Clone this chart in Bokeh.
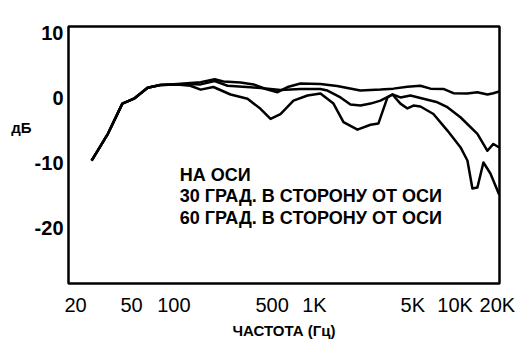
from bokeh.plotting import figure
from bokeh.models import Range1d, FixedTicker, Label, LinearAxis
from bokeh.embed import file_html
from bokeh.resources import INLINE

# Frequencies (Hz) and levels (dB)
on_axis_f = [26, 34, 43, 52, 65, 80, 106, 131, 155, 195, 225, 298, 369, 450, 546, 654, 795,
             1100, 1450, 2120, 2950, 3640, 4580, 5670, 6680, 8260, 9730, 12200, 14400, 17000, 18700, 20600]
on_axis_db = [-9.6, -5.45, -0.85, -0.1, 1.6, 2.0, 2.15, 2.3, 2.45, 2.9, 2.55, 2.4, 2.1, 1.4, 0.9, 1.75, 2.25,
              2.15, 1.85, 1.15, 1.3, 1.45, 1.75, 1.9, 1.45, 1.4, 0.75, 0.7, 0.9, 0.55, 0.75, 1.0]

deg30_f = [26, 34, 43, 52, 65, 80, 106, 131, 155, 195, 241, 351, 413, 573, 795, 1100, 1237, 1531, 1803,
           2124, 2502, 2946, 3586, 4086, 4814, 5956, 7490, 8820, 10916, 14416, 16984, 18734, 20600]
deg30_db = [-9.6, -5.45, -0.85, -0.1, 1.6, 2.0, 2.1, 2.15, 2.1, 2.6, 1.9, 1.65, 1.55, 1.25, 1.4, 1.4, 1.15, 0.1, -1.0,
            -1.15, -0.85, -0.4, 0.55, 0.1, 0.4, -0.1, -0.65, -1.4, -2.95, -5.5, -8.1, -7.05, -7.6]

deg60_f = [26, 34, 43, 52, 65, 80, 106, 131, 155, 191, 253, 334, 413, 487, 573, 709, 892, 1103, 1365, 1608,
           2022, 2502, 2852, 3304, 3586, 4086, 4584, 5056, 5672, 7016, 8820, 10916, 12240, 13282, 14416,
           15906, 17838, 20600]
deg60_db = [-9.6, -5.45, -0.85, -0.1, 1.6, 2.0, 2.1, 1.9, 1.3, 1.7, 0.55, -0.1, -1.65, -3.2, -2.45, -0.4, 0.4, 0.7,
            -0.85, -3.7, -4.85, -4.1, -3.9, 0.1, 0.55, -0.85, -1.6, -1.15, -1.3, -2.45, -5.0, -7.55, -9.6, -13.9,
            -13.75, -9.9, -11.6, -14.85]

x_ticks = [20, 50, 100, 500, 1000, 5000, 10000, 20000]
x_tick_labels = ["20", "50", "100", "500", "1K", "5K", "10K", "20K"]
y_ticks = [10, 0, -10, -20]
y_tick_labels = ["10", "0", "-10", "-20"]
y_unit = "дБ"
y_unit_level = -4.5
legend_lines = ["НА ОСИ", "30 ГРАД. В СТОРОНУ ОТ ОСИ", "60 ГРАД. В СТОРОНУ ОТ ОСИ"]

FONT = "Liberation Sans"

p = figure(width=530, height=349, x_axis_type="log",
           x_range=Range1d(17.8, 20700), y_range=Range1d(-28.5, 11),
           output_backend="svg", toolbar_location=None,
           min_border_left=68, min_border_right=31, min_border_top=26, min_border_bottom=66)
p.background_fill_color = "white"
p.border_fill_color = "white"
p.outline_line_color = "black"
p.outline_line_width = 2.5
p.grid.visible = False

for fx, dy in [(on_axis_f, on_axis_db), (deg30_f, deg30_db), (deg60_f, deg60_db)]:
    p.line(fx, dy, line_color="black", line_width=2.5, line_join="round")

xa = p.xaxis[0]
xa.ticker = FixedTicker(ticks=x_ticks, minor_ticks=[])
xa.major_label_overrides = {t: l for t, l in zip(x_ticks, x_tick_labels)}
xa.axis_line_color = None
xa.major_tick_line_color = None
xa.minor_tick_line_color = None
xa.major_tick_out = 0
xa.major_label_standoff = 10
xa.major_label_text_font = FONT
xa.major_label_text_font_size = "20px"
xa.major_label_text_color = "black"
xa.axis_label = "ЧАСТОТА (Гц)"
xa.axis_label_text_font = FONT
xa.axis_label_text_font_size = "15px"
xa.axis_label_text_font_style = "bold"
xa.axis_label_text_color = "black"
xa.axis_label_standoff = 3

ya = p.yaxis[0]
ya.ticker = FixedTicker(ticks=y_ticks, minor_ticks=[])
ya.major_label_overrides = {t: l for t, l in zip(y_ticks, y_tick_labels)}
ya.axis_line_color = None
ya.major_tick_line_color = None
ya.minor_tick_line_color = None
ya.major_tick_out = 0
ya.major_label_standoff = 5
ya.major_label_text_font = FONT
ya.major_label_text_font_size = "20px"
ya.major_label_text_font_style = "bold"
ya.major_label_text_color = "black"

# unit label "дБ" shown as an outer left axis with one labelled level
ua = LinearAxis(ticker=FixedTicker(ticks=[y_unit_level], minor_ticks=[]),
                major_label_overrides={y_unit_level: y_unit})
ua.axis_line_color = None
ua.major_tick_line_color = None
ua.minor_tick_line_color = None
ua.major_tick_out = 0
ua.major_tick_in = 0
ua.major_label_standoff = 0
ua.major_label_text_font = FONT
ua.major_label_text_font_size = "15px"
ua.major_label_text_font_style = "bold"
ua.major_label_text_color = "black"
p.add_layout(ua, "left")

for i, t in enumerate(legend_lines):
    p.add_layout(Label(x=110, y=-11.8 - 3.3 * i, text=t, text_font=FONT, text_font_size="18px",
                       text_font_style="bold", text_align="left", text_baseline="alphabetic",
                       text_color="black"))

open("out.html", "w").write(file_html(p, INLINE))
